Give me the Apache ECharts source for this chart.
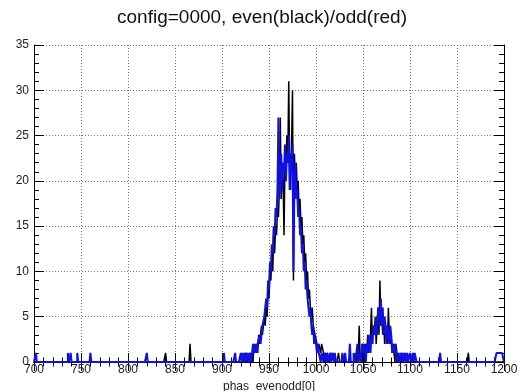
<!DOCTYPE html>
<html>
<head>
<meta charset="utf-8">
<script src="https://cdn.jsdelivr.net/npm/echarts@6/dist/echarts.min.js"></script>
<style>
  html, body { margin: 0; padding: 0; background: #fff; }
  #chart { width: 524px; height: 391px; }
</style>
</head>
<body>
<div id="chart"></div>
<script>
// Histogram of phas_evenodd[0], 1-unit bins from 700 to 1200
const xMin = 700;
const xMax = 1200;
const binWidth = 1;

// Main peak, contiguous bins starting at peakEdge (920 ... 1019)
const peakEdge = 920;
const evenPeak = [
  0, 1, 0, 0, 1, 0, 1, 0, 0, 1,
  0, 1, 1, 0, 2, 1, 1, 2, 1, 3,
  2, 2, 4, 3, 3, 5, 4, 6, 5, 8,
  7, 10, 9, 12, 10, 14, 12, 15, 14, 17,
  16, 19, 27, 18, 22, 20, 14, 23, 21, 25,
  22, 31, 21, 19, 24, 30, 9, 23, 20, 22,
  19, 20, 17, 18, 15, 16, 13, 14, 11, 12,
  9, 10, 7, 8, 6, 5, 6, 4, 4, 3,
  3, 2, 1, 2, 2, 1, 2, 2, 1, 0,
  1, 0, 1, 0, 0, 1, 0, 0, 1, 0];
const oddPeak = [
  1, 0, 1, 0, 0, 1, 0, 1, 1, 0,
  1, 0, 1, 2, 1, 1, 2, 1, 2, 2,
  3, 2, 3, 4, 4, 5, 5, 7, 6, 9,
  8, 11, 10, 13, 12, 15, 14, 17, 16, 19,
  27, 18, 21, 23, 19, 22, 21, 24, 20, 23,
  22, 25, 19, 23, 21, 24, 10, 20, 22, 18,
  19, 16, 17, 14, 15, 12, 13, 10, 11, 8,
  9, 7, 6, 5, 6, 4, 3, 4, 2, 3,
  2, 1, 2, 1, 1, 0, 1, 1, 0, 1,
  1, 0, 1, 1, 0, 1, 0, 1, 1, 0];

// Secondary bump, contiguous bins starting at bumpEdge (1040 ... 1099)
const bumpEdge = 1040;
const evenBump = [
  0, 0, 1, 0, 0, 1, 4, 0, 1, 0,
  2, 1, 0, 2, 1, 3, 1, 2, 3, 6,
  2, 4, 3, 5, 2, 4, 6, 3, 9, 4,
  5, 3, 5, 2, 4, 3, 2, 6, 3, 2,
  3, 1, 2, 1, 0, 2, 1, 0, 1, 0,
  0, 1, 0, 0, 1, 0, 0, 0, 0, 0];
const oddBump = [
  1, 0, 0, 1, 2, 0, 1, 1, 0, 2,
  1, 2, 1, 0, 2, 1, 3, 2, 1, 3,
  2, 4, 4, 3, 5, 3, 6, 4, 5, 7,
  4, 6, 3, 5, 4, 2, 4, 3, 2, 4,
  3, 1, 2, 1, 2, 1, 0, 1, 1, 0,
  1, 0, 1, 0, 0, 1, 0, 1, 0, 0];

// Isolated entries: [bin low edge, count]
const evenStray = [[840, 1], [866, 2], [1024, 1], [1162, 1]];
const oddStray = [[702, 1], [736, 1], [739, 1], [746, 1], [760, 1], [820, 1],
                  [902, 1], [914, 1], [1020, 1], [1028, 1], [1031, 1], [1036, 2],
                  [1100, 1], [1101, 1], [1103, 1], [1105, 1], [1106, 1], [1132, 1],
                  [1192, 1], [1193, 1], [1194, 1], [1195, 1], [1196, 1], [1197, 1],
                  [1198, 1], [1199, 1]];

// Axis ticks
const xTicks = [700, 750, 800, 850, 900, 950, 1000, 1050, 1100, 1150, 1200];
const yTicks = [0, 5, 10, 15, 20, 25, 30, 35];

function fillBins(peak, bump, stray) {
  const n = Math.round((xMax - xMin) / binWidth);
  const counts = new Array(n).fill(0);
  const put = (edge, c) => { counts[Math.round((edge - xMin) / binWidth)] = c; };
  peak.forEach((c, i) => put(peakEdge + i * binWidth, c));
  bump.forEach((c, i) => put(bumpEdge + i * binWidth, c));
  stray.forEach(([e, c]) => put(e, c));
  const pts = counts.map((c, i) => [xMin + i * binWidth, c]);
  pts.push([xMax, 0]);
  return pts;
}

const evenData = fillBins(evenPeak, evenBump, evenStray);
const oddData = fillBins(oddPeak, oddBump, oddStray);

const font = '"Liberation Sans", Arial, Helvetica, sans-serif';
const gridLine = { show: true, lineStyle: { color: '#777', width: 1, type: [1, 2] } };
const tickStyle = { color: '#000', width: 1 };

const chart = echarts.init(document.getElementById('chart'), null, { renderer: 'canvas' });
chart.setOption({
  animation: false,
  backgroundColor: '#ffffff',
  title: {
    text: 'config=0000, even(black)/odd(red)',
    left: 'center',
    top: 3,
    textStyle: { fontFamily: font, fontSize: 19, fontWeight: 'normal', color: '#111' }
  },
  grid: { left: 34, right: 20, top: 45, bottom: 29, containLabel: false, outerBoundsMode: 'none' },
  xAxis: [{
    type: 'value', min: xMin, max: xMax, interval: xTicks[1] - xTicks[0],
    name: 'phas_evenodd[0]', nameLocation: 'middle', nameGap: 16,
    nameTextStyle: { fontFamily: font, fontSize: 12, color: '#222', verticalAlign: 'top' },
    axisLine: { show: true, onZero: false, lineStyle: tickStyle },
    axisTick: { show: true, inside: true, length: 9, lineStyle: tickStyle },
    minorTick: { show: true, splitNumber: 5, length: 4.5, lineStyle: tickStyle },
    axisLabel: { fontFamily: font, fontSize: 12, color: '#222', margin: 2,
                 formatter: v => String(v) },
    splitLine: gridLine
  }, {
    type: 'value', position: 'top', min: xMin, max: xMax, interval: xTicks[1] - xTicks[0],
    axisLine: { show: true, lineStyle: tickStyle },
    axisTick: { show: true, inside: true, length: 9, lineStyle: tickStyle },
    minorTick: { show: true, splitNumber: 5, length: 4.5, lineStyle: tickStyle },
    axisLabel: { show: false },
    splitLine: { show: false }
  }],
  yAxis: [{
    type: 'value', min: yTicks[0], max: yTicks[yTicks.length - 1], interval: yTicks[1] - yTicks[0],
    axisLine: { show: true, lineStyle: tickStyle },
    axisTick: { show: true, inside: true, length: 10, lineStyle: tickStyle },
    minorTick: { show: true, splitNumber: 5, length: 5, lineStyle: tickStyle },
    axisLabel: { fontFamily: font, fontSize: 12, color: '#222', margin: 5 },
    splitLine: gridLine
  }, {
    type: 'value', position: 'right', min: yTicks[0], max: yTicks[yTicks.length - 1],
    interval: yTicks[1] - yTicks[0],
    axisLine: { show: true, lineStyle: tickStyle },
    axisTick: { show: true, inside: true, length: 10, lineStyle: tickStyle },
    minorTick: { show: true, splitNumber: 5, length: 5, lineStyle: tickStyle },
    axisLabel: { show: false },
    splitLine: { show: false }
  }],
  series: [{
    name: 'even', type: 'line', step: 'end', data: evenData,
    xAxisIndex: 0, yAxisIndex: 0, showSymbol: false, symbol: 'none',
    lineStyle: { color: '#000000', width: 1.5 }, z: 2
  }, {
    name: 'odd', type: 'line', step: 'end', data: oddData,
    xAxisIndex: 0, yAxisIndex: 0, showSymbol: false, symbol: 'none',
    lineStyle: { color: '#1010e0', width: 2 }, z: 3
  }]
});
</script>
</body>
</html>
